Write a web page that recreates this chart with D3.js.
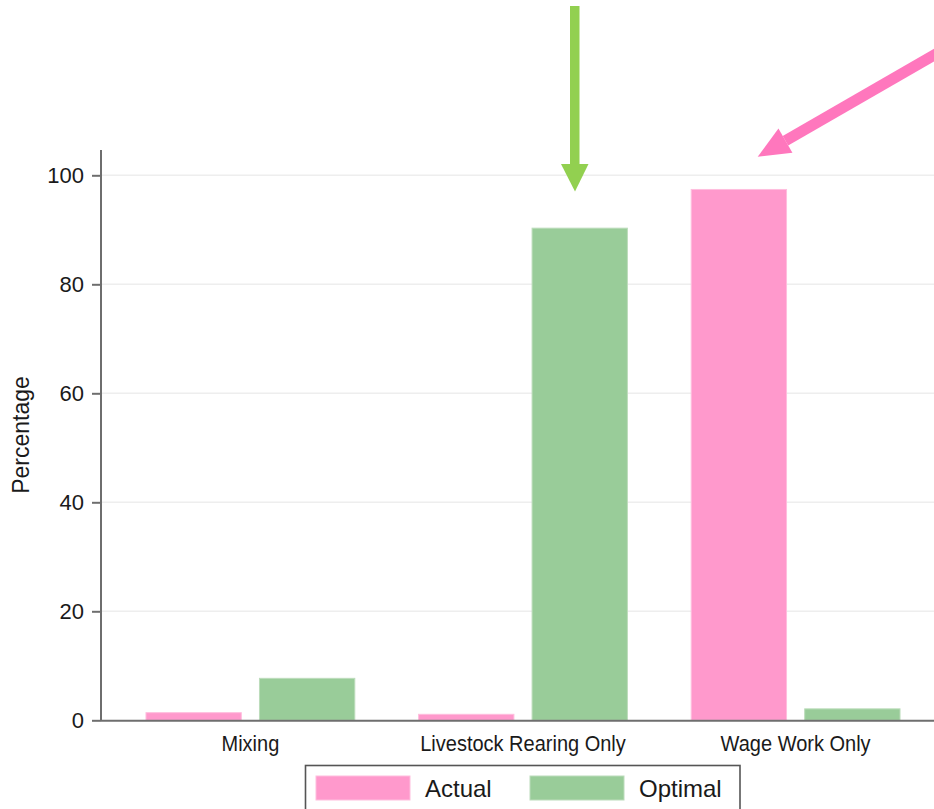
<!DOCTYPE html>
<html>
<head>
<meta charset="utf-8">
<script src="https://cdn.jsdelivr.net/npm/d3@7/dist/d3.min.js"></script>
<style>
  html, body { margin: 0; padding: 0; background: #ffffff; }
  svg { display: block; font-family: "Liberation Sans", Arial, sans-serif; }
</style>
</head>
<body>
<svg id="chart" width="934" height="809"></svg>
<script>
// ---- data ----
const categories = ["Mixing", "Livestock Rearing Only", "Wage Work Only"];
const seriesNames = ["Actual", "Optimal"];
const actualValues = [1.4, 1.1, 97.4];
const optimalValues = [7.7, 90.3, 2.1];
const yTicks = [0, 20, 40, 60, 80, 100];
const yLabel = "Percentage";

const colors = { Actual: "#ff99cc", Optimal: "#99cc99" };
const strokes = { Actual: "#ffbede", Optimal: "#bcdcbb" };

const svg = d3.select("#chart");
const W = 934, H = 809;

const y = d3.scaleLinear().domain([0, 100]).range([720.3, 175.3]);
const x0 = d3.scaleBand().domain(categories).range([101, 945]).paddingInner(0.234).paddingOuter(0.165);
const x1 = d3.scaleBand().domain(seriesNames).range([0, x0.bandwidth()]).paddingInner(0.16);

const rows = categories.map((c, i) => ({ cat: c, Actual: actualValues[i], Optimal: optimalValues[i] }));

// gridlines
svg.append("g").selectAll("line").data(yTicks.filter(t => t > 0)).join("line")
  .attr("x1", 101).attr("x2", W)
  .attr("y1", d => y(d)).attr("y2", d => y(d))
  .attr("stroke", "#eeeeee").attr("stroke-width", 1.6);

// bars
const groups = svg.append("g").selectAll("g").data(rows).join("g")
  .attr("transform", d => `translate(${x0(d.cat)},0)`);
groups.selectAll("rect").data(d => seriesNames.map(s => ({ s, v: d[s] }))).join("rect")
  .attr("x", d => x1(d.s))
  .attr("width", x1.bandwidth())
  .attr("y", d => y(d.v))
  .attr("height", d => y(0) - y(d.v))
  .attr("fill", d => colors[d.s])
  .attr("stroke", d => strokes[d.s])
  .attr("stroke-width", 1);

// y axis
const yAxis = d3.axisLeft(y).tickValues(yTicks).tickSize(9).tickPadding(8);
const gy = svg.append("g").attr("transform", "translate(101,0)").call(yAxis);
gy.select(".domain").remove();
gy.selectAll(".tick line").attr("stroke", "#6e6e6e").attr("stroke-width", 2);
gy.selectAll(".tick text").attr("font-size", 22).attr("fill", "#1a1a1a")
  .attr("font-family", "'Liberation Sans', Arial, sans-serif");
svg.append("line").attr("x1", 101).attr("x2", 101).attr("y1", 150).attr("y2", y(0))
  .attr("stroke", "#6e6e6e").attr("stroke-width", 2);

// x axis line
svg.append("line").attr("x1", 101).attr("x2", W).attr("y1", y(0) + 0.5).attr("y2", y(0) + 0.5)
  .attr("stroke", "#6e6e6e").attr("stroke-width", 2);

// category labels
svg.append("g").selectAll("text").data(categories).join("text")
  .attr("transform", d => `translate(${x0(d) + x0.bandwidth() / 2},751) scale(1,1.1)`)
  .attr("text-anchor", "middle")
  .attr("font-size", 20)
  .attr("fill", "#1a1a1a")
  .text(d => d);

// y label
svg.append("text")
  .attr("transform", "translate(29,435) rotate(-90)")
  .attr("text-anchor", "middle")
  .attr("font-size", 23)
  .attr("fill", "#1a1a1a")
  .text(yLabel);

// legend
const lg = svg.append("g");
lg.append("rect").attr("x", 305.5).attr("y", 765.5).attr("width", 434.5).attr("height", 60)
  .attr("fill", "#ffffff").attr("stroke", "#555555").attr("stroke-width", 1.6);
const legendX = { Actual: 316, Optimal: 530 };
seriesNames.forEach(s => {
  lg.append("rect").attr("x", legendX[s]).attr("y", 776).attr("width", 94).attr("height", 24)
    .attr("fill", colors[s]).attr("stroke", strokes[s]).attr("stroke-width", 1);
  lg.append("text").attr("x", legendX[s] + 109).attr("y", 797)
    .attr("font-size", 24).attr("fill", "#1a1a1a").text(s);
});

// annotation arrows
const ann = svg.append("g");
// green vertical arrow
ann.append("rect").attr("x", 570).attr("y", 6).attr("width", 9.5).attr("height", 160).attr("fill", "#92d050");
ann.append("path").attr("d", "M561,164 L588.5,164 L575,191.5 Z").attr("fill", "#92d050");
// pink diagonal arrow
const tip = [757.7, 156.7], start = [950, 46];
const dx = start[0] - tip[0], dy = start[1] - tip[1];
const len = Math.hypot(dx, dy);
const ux = dx / len, uy = dy / len;
const nx = -uy, ny = ux;
const headLen = 32, headHalf = 14, shaftHalf = 5.5;
const bx = tip[0] + ux * headLen, by = tip[1] + uy * headLen;
ann.append("path")
  .attr("d", `M${bx + nx * shaftHalf},${by + ny * shaftHalf} L${start[0] + nx * shaftHalf},${start[1] + ny * shaftHalf} L${start[0] - nx * shaftHalf},${start[1] - ny * shaftHalf} L${bx - nx * shaftHalf},${by - ny * shaftHalf} Z`)
  .attr("fill", "#ff77bd");
ann.append("path")
  .attr("d", `M${tip[0]},${tip[1]} L${bx + nx * headHalf},${by + ny * headHalf} L${bx - nx * headHalf},${by - ny * headHalf} Z`)
  .attr("fill", "#ff77bd");
</script>
</body>
</html>
